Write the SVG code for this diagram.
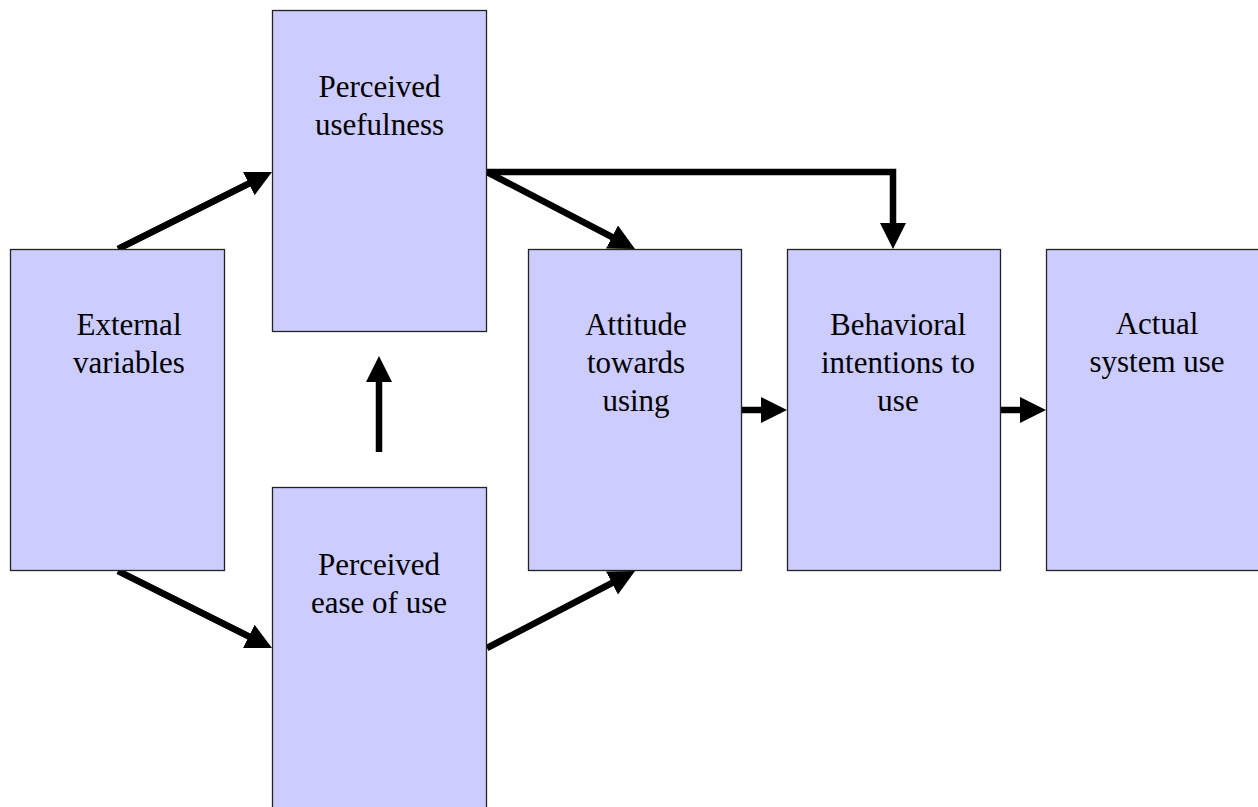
<svg xmlns="http://www.w3.org/2000/svg" width="1258" height="807" viewBox="0 0 1258 807">
  <style>
    .box { fill: #CCCCFF; stroke: #222; stroke-width: 1.3; }
    .lbl { font-family: "Liberation Serif", "Times New Roman", serif; font-size: 31px; fill: #000; text-anchor: middle; }
    .conn { fill: none; stroke: #000; stroke-width: 6.5; marker-end: url(#head); }
  </style>
  <defs>
    <marker id="head" markerUnits="userSpaceOnUse" markerWidth="26" markerHeight="26" refX="13" refY="13" orient="auto">
      <path d="M0,0 L26,13 L0,26 Z" fill="#000"/>
    </marker>
  </defs>
  <rect width="1258" height="807" fill="#fff"/>

  <!-- connectors, drawn under the boxes -->
  <g id="connectors">
    <line class="conn" x1="118" y1="249" x2="260.4" y2="177.8"/>
    <line class="conn" x1="487" y1="172" x2="623.5" y2="243"/>
    <polyline class="conn" points="487,172 893,172 893,236"/>
    <line class="conn" x1="379" y1="452" x2="379" y2="369"/>
    <line class="conn" x1="118" y1="571" x2="260.4" y2="642.2"/>
    <line class="conn" x1="487" y1="648" x2="623.5" y2="577"/>
    <line class="conn" x1="742" y1="410" x2="774" y2="410"/>
    <line class="conn" x1="1001" y1="410" x2="1033" y2="410"/>
  </g>

  <g id="external">
    <rect class="box" x="10.5" y="249.5" width="214" height="321"/>
    <text class="lbl" x="129" y="335">External</text>
    <text class="lbl" x="129" y="373">variables</text>
  </g>

  <g id="usefulness">
    <rect class="box" x="272.5" y="10.5" width="214" height="321"/>
    <text class="lbl" x="379.5" y="97">Perceived</text>
    <text class="lbl" x="379.5" y="135">usefulness</text>
  </g>

  <g id="ease">
    <rect class="box" x="272.5" y="487.5" width="214" height="330"/>
    <text class="lbl" x="379" y="575">Perceived</text>
    <text class="lbl" x="379" y="613">ease of use</text>
  </g>

  <g id="attitude">
    <rect class="box" x="528.5" y="249.5" width="213" height="321"/>
    <text class="lbl" x="636" y="335">Attitude</text>
    <text class="lbl" x="636" y="373">towards</text>
    <text class="lbl" x="636" y="411">using</text>
  </g>

  <g id="intention">
    <rect class="box" x="787.5" y="249.5" width="213" height="321"/>
    <text class="lbl" x="898" y="335">Behavioral</text>
    <text class="lbl" x="898" y="373">intentions to</text>
    <text class="lbl" x="898" y="411">use</text>
  </g>

  <g id="actual">
    <rect class="box" x="1046.5" y="249.5" width="230" height="321"/>
    <text class="lbl" x="1157" y="334">Actual</text>
    <text class="lbl" x="1157" y="372">system use</text>
  </g>
</svg>
